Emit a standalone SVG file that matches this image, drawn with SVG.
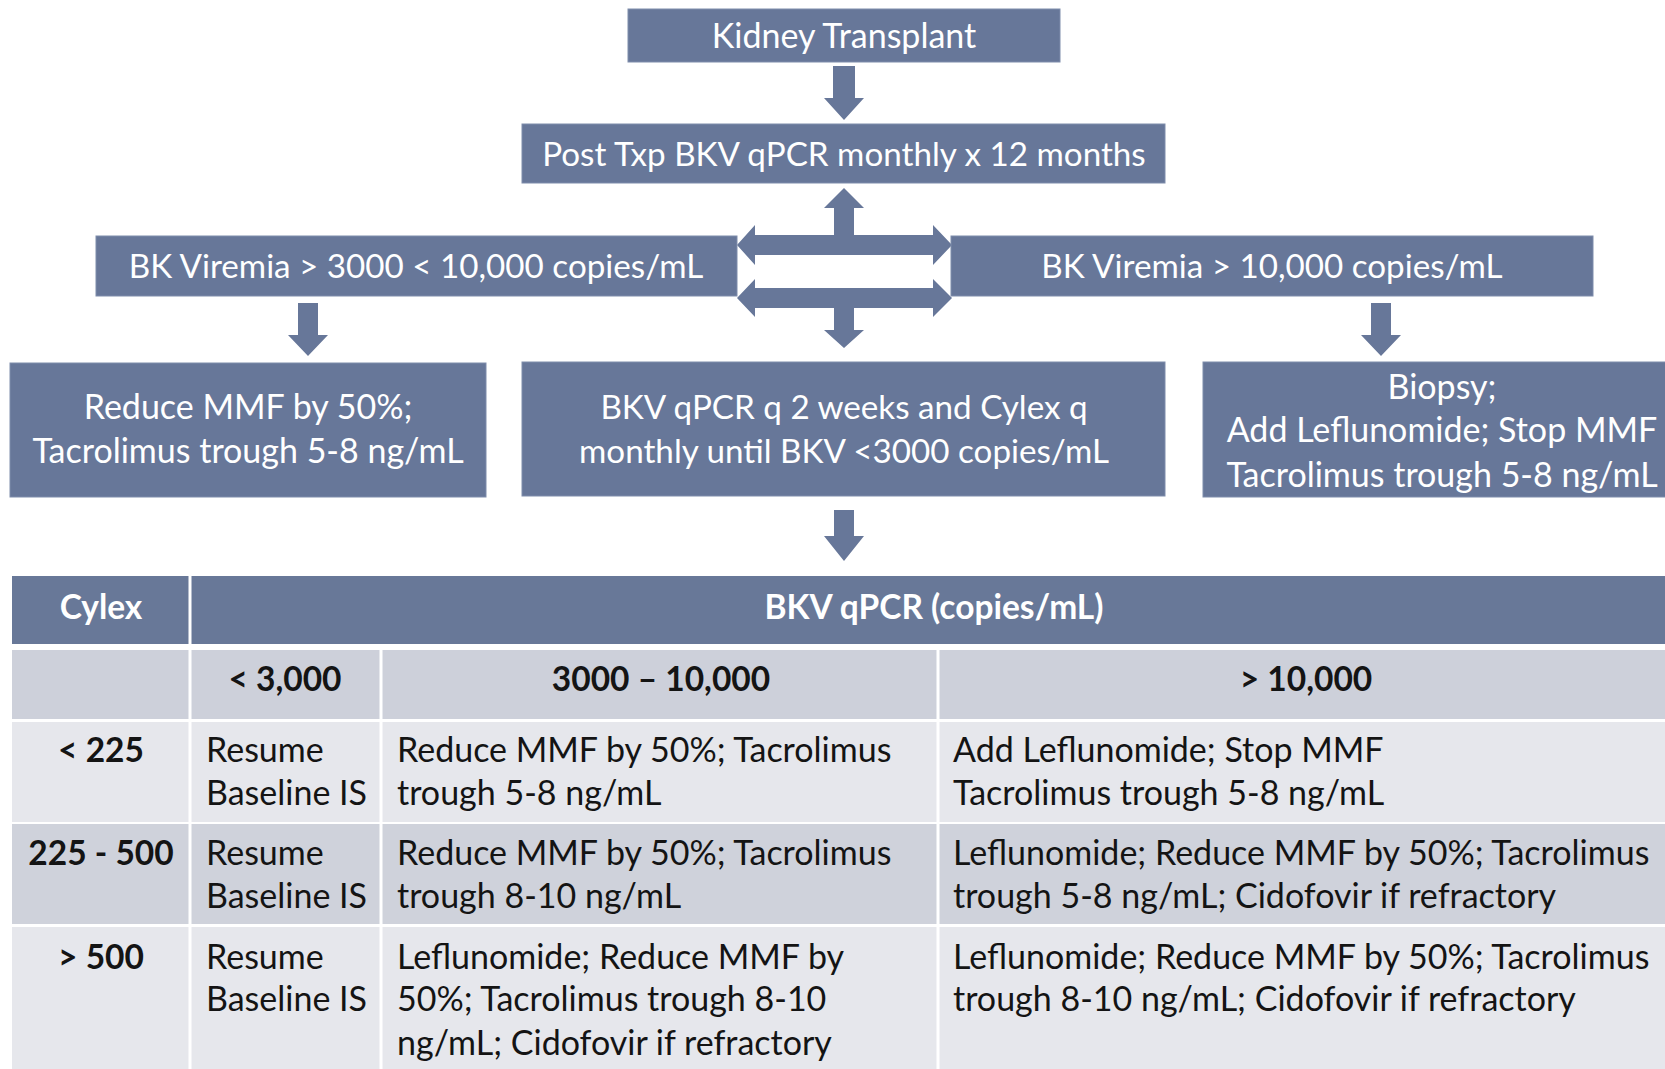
<svg xmlns="http://www.w3.org/2000/svg" width="1665" height="1069" viewBox="0 0 1665 1069">
<style>
.box{fill:#677799;stroke:#7f8dab;stroke-width:1}
.arr{fill:#677799}
.bt{font-family:Lato,"Liberation Sans",sans-serif;font-size:34px;fill:#ffffff;text-anchor:middle}
.bs{font-size:33.2px}
.tt{font-family:Lato,"Liberation Sans",sans-serif;font-size:34px;fill:#141414}
.th{font-family:Lato,"Liberation Sans",sans-serif;font-size:33.5px;font-weight:bold;fill:#ffffff;text-anchor:middle}
.tb{font-weight:bold;text-anchor:middle;font-size:33.5px}
.hdr{fill:#687898}
.r2{fill:#cdd0da}
.r3{fill:#e6e7ec}
.r4{fill:#cfd2db}
.sep{stroke:#ffffff;stroke-width:3}
</style>
<rect width="1665" height="1069" fill="#ffffff"/>
<g id="connectors">
<polygon class="arr" points="833,66 855,66 855,98 864,98 844,120 824,98 833,98"/>
<polygon class="arr" points="737,245 755,225 755,235 834,235 834,208 824,208 844,188 864,208 854,208 854,235 933,235 933,225 952,245 933,265 933,255 755,255 755,265"/>
<polygon class="arr" points="737,298 755,279 755,288 933,288 933,279 952,298 933,317 933,308 854,308 854,330 864,330 844,348 824,330 834,330 834,308 755,308 755,317"/>
<polygon class="arr" points="298,303 318,303 318,335 328,335 308,356 288,335 298,335"/>
<polygon class="arr" points="1371,303 1391,303 1391,335 1401,335 1381,356 1361,335 1371,335"/>
<polygon class="arr" points="834,510 854,510 854,536 864,536 844,561 824,536 834,536"/>
</g>
<g id="kidney">
<rect class="box" x="628" y="9" width="432" height="53"/>
<text class="bt" x="844" y="48">Kidney Transplant</text>
</g>
<g id="posttxp">
<rect class="box" x="522" y="124" width="643" height="59"/>
<text class="bt bs" x="844" y="166">Post Txp BKV qPCR monthly x 12 months</text>
</g>
<g id="bk-low">
<rect class="box" x="96" y="236" width="641" height="60"/>
<text class="bt bs" x="416" y="278">BK Viremia &gt; 3000 &lt; 10,000 copies/mL</text>
</g>
<g id="bk-high">
<rect class="box" x="951" y="236" width="642" height="60"/>
<text class="bt bs" x="1272" y="278">BK Viremia &gt; 10,000 copies/mL</text>
</g>
<g id="reduce">
<rect class="box" x="10" y="363" width="476" height="134"/>
<text class="bt" x="248" y="419">Reduce MMF by 50%;</text>
<text class="bt" x="248" y="463">Tacrolimus trough 5-8 ng/mL</text>
</g>
<g id="monitor">
<rect class="box" x="522" y="362" width="643" height="134"/>
<text class="bt bs" x="844" y="419">BKV qPCR q 2 weeks and Cylex q</text>
<text class="bt bs" x="844" y="463">monthly until BKV &lt;3000 copies/mL</text>
</g>
<g id="biopsy">
<rect class="box" x="1203" y="362" width="478" height="135"/>
<text class="bt" x="1442" y="399">Biopsy;</text>
<text class="bt" x="1442" y="442">Add Leflunomide; Stop MMF</text>
<text class="bt" x="1442" y="487">Tacrolimus trough 5-8 ng/mL</text>
</g>
<g id="table">
<rect class="hdr" x="12" y="576" width="1653" height="68"/>
<rect class="r2" x="12" y="650" width="1653" height="69"/>
<rect class="r3" x="12" y="722" width="1653" height="100"/>
<rect class="r4" x="12" y="824" width="1653" height="100"/>
<rect class="r3" x="12" y="927" width="1653" height="142"/>
<line class="sep" x1="190" y1="576" x2="190" y2="1069"/>
<line class="sep" x1="381" y1="650" x2="381" y2="1069"/>
<line class="sep" x1="938" y1="650" x2="938" y2="1069"/>
<text class="th" x="101" y="619">Cylex</text>
<text class="th" x="934" y="619">BKV qPCR (copies/mL)</text>
<text class="tt tb" x="285" y="691">&lt; 3,000</text>
<text class="tt tb" x="661" y="691">3000 – 10,000</text>
<text class="tt tb" x="1306" y="691">&gt; 10,000</text>
<text class="tt tb" x="101" y="762">&lt; 225</text>
<text class="tt" x="206" y="762">Resume</text>
<text class="tt" x="206" y="805">Baseline IS</text>
<text class="tt" x="397" y="762">Reduce MMF by 50%; Tacrolimus</text>
<text class="tt" x="397" y="805">trough 5-8 ng/mL</text>
<text class="tt" x="953" y="762">Add Leflunomide; Stop MMF</text>
<text class="tt" x="953" y="805">Tacrolimus trough 5-8 ng/mL</text>
<text class="tt tb" x="101" y="865">225 - 500</text>
<text class="tt" x="206" y="865">Resume</text>
<text class="tt" x="206" y="908">Baseline IS</text>
<text class="tt" x="397" y="865">Reduce MMF by 50%; Tacrolimus</text>
<text class="tt" x="397" y="908">trough 8-10 ng/mL</text>
<text class="tt" x="953" y="865">Leflunomide; Reduce MMF by 50%; Tacrolimus</text>
<text class="tt" x="953" y="908">trough 5-8 ng/mL; Cidofovir if refractory</text>
<text class="tt tb" x="101" y="969">&gt; 500</text>
<text class="tt" x="206" y="969">Resume</text>
<text class="tt" x="206" y="1011">Baseline IS</text>
<text class="tt" x="397" y="969">Leflunomide; Reduce MMF by</text>
<text class="tt" x="397" y="1011">50%; Tacrolimus trough 8-10</text>
<text class="tt" x="397" y="1055">ng/mL; Cidofovir if refractory</text>
<text class="tt" x="953" y="969">Leflunomide; Reduce MMF by 50%; Tacrolimus</text>
<text class="tt" x="953" y="1011">trough 8-10 ng/mL; Cidofovir if refractory</text>
</g>
</svg>
